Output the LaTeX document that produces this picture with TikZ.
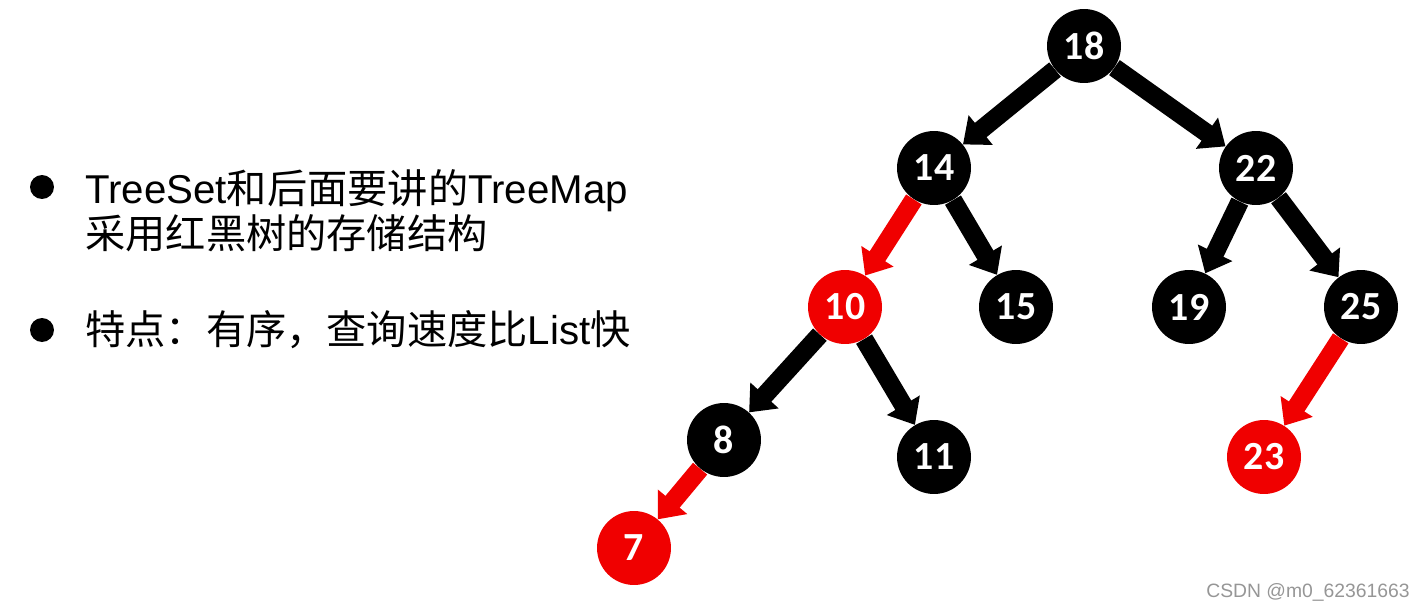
\documentclass[tikz,border=0pt]{standalone}
\usepackage{fontspec}
\setmainfont{Liberation Sans}
\newfontfamily\cjk{Noto Sans CJK SC}
\newfontfamily\numfont{Carlito}
\usetikzlibrary{arrows.meta, backgrounds}
\definecolor{rosso}{RGB}{240,0,0}
\definecolor{grigio}{RGB}{150,150,150}
\tikzset{
    nodo/.style={circle, inner sep=0pt, minimum size=1.48cm, text=white, font=\numfont\bfseries\fontsize{22.7}{24}\selectfont},
    nero/.style={nodo, fill=black},
    rossa/.style={nodo, fill=rosso},
    freccia/.style={line width=10.5pt, -{Triangle[length=13pt, width=21pt]}},
    testo/.style={inner sep=0pt, anchor=base west, font=\fontsize{22.9}{27}\selectfont},
    punto/.style={circle, fill=black, inner sep=0pt, minimum size=0.48cm}
}

\begin{document}
\begin{tikzpicture}[x=0.02cm, y=-0.02cm]
        \useasboundingbox (0,0) rectangle (1424,612);
        %disegno testo a sinistra
        \node[punto] (p1) at (42,187) {};
        \node[testo] (riga1) at (85,203) {TreeSet{\cjk 和后面要讲的}TreeMap};
        \node[testo] (riga2) at (85,248) {\cjk 采用红黑树的存储结构};
        \node[punto] (p2) at (42,330) {};
        \node[testo] (riga3) at (85,344) {{\cjk 特点：有序，查询速度比}List{\cjk 快}};
        %disegno nodi
        \node[nero] (n18) at (1084,46) {18};
        \node[nero] (n14) at (934,168) {14};
        \node[nero] (n22) at (1256,168) {22};
        \node[rossa] (n10) at (845,307) {10};
        \node[nero] (n15) at (1016,307) {15};
        \node[nero] (n19) at (1189,307) {19};
        \node[nero] (n25) at (1361,307) {25};
        \node[nero] (n8) at (724,440) {8};
        \node[nero] (n11) at (934,457) {11};
        \node[rossa] (n23) at (1264,457) {23};
        \node[rossa] (n7) at (634,548) {7};
        %disegno frecce
        \begin{scope}[on background layer]
            \draw[freccia] (n18) -- (n14);
            \draw[freccia] (n18) -- (n22);
            \draw[freccia, rosso] (n14) -- (n10);
            \draw[freccia] (n14) -- (n15);
            \draw[freccia] (n22) -- (n19);
            \draw[freccia] (n22) -- (n25);
            \draw[freccia] (n10) -- (n8);
            \draw[freccia] (n10) -- (n11);
            \draw[freccia, rosso] (n8) -- (n7);
            \draw[freccia, rosso] (n25) -- (n23);
        \end{scope}
        %disegno firma
        \node[inner sep=0pt, anchor=base east, text=grigio, font=\fontsize{11}{12}\selectfont] (firma) at (1410,597) {CSDN @m0\_62361663};
    \end{tikzpicture}
\end{document}
